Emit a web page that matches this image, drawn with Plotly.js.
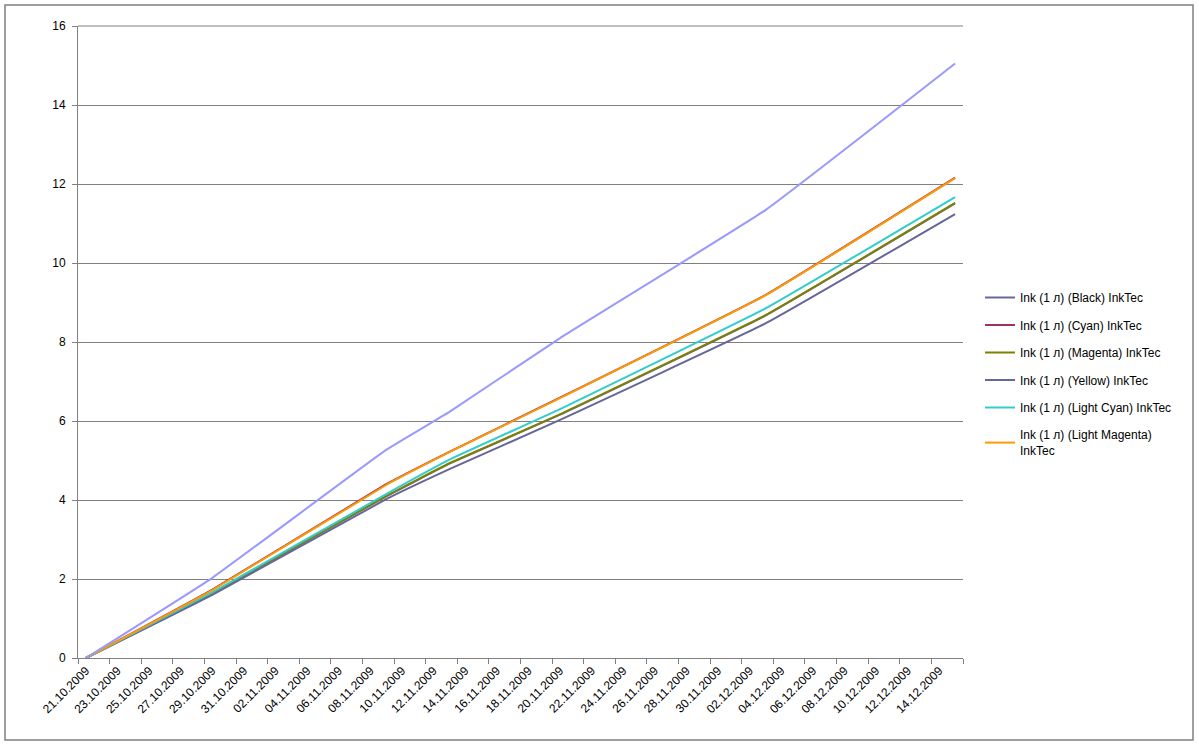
<!DOCTYPE html>
<html>
<head>
<meta charset="utf-8">
<script src="https://cdn.plot.ly/plotly-3.0.1.min.js"></script>
<style>
  html, body { margin: 0; padding: 0; background: #ffffff; }
  #chart { width: 1199px; height: 745px; }
</style>
</head>
<body>
<div id="chart"></div>
<script>
// ---- data ----
const dates = ['2009-10-21', '2009-10-29', '2009-11-09', '2009-11-13', '2009-11-20', '2009-12-03', '2009-12-15'];

const seriesNames = [
  'Ink (1 л) (Black) InkTec',
  'Ink (1 л) (Cyan) InkTec',
  'Ink (1 л) (Magenta) InkTec',
  'Ink (1 л) (Yellow) InkTec',
  'Ink (1 л) (Light Cyan) InkTec',
  'Ink (1 л) (Light Magenta)<br>InkTec',
  'Ink (1 л) (Light Black) InkTec'
];

const black        = [0, 1.63, 4.09, 4.92, 6.16, 8.67, 11.51];
const cyan         = [0, 1.73, 4.40, 5.22, 6.59, 9.19, 12.16];
const magenta      = [0, 1.64, 4.10, 4.93, 6.17, 8.68, 11.52];
const yellow       = [0, 1.60, 4.02, 4.78, 6.03, 8.47, 11.24];
const lightCyan    = [0, 1.66, 4.15, 5.02, 6.30, 8.85, 11.67];
const lightMagenta = [0, 1.72, 4.38, 5.21, 6.58, 9.18, 12.15];
const lightBlack   = [0, 2.03, 5.27, 6.23, 8.10, 11.34, 15.05];

const tickLabels = ['21.10.2009','23.10.2009','25.10.2009','27.10.2009','29.10.2009','31.10.2009',
  '02.11.2009','04.11.2009','06.11.2009','08.11.2009','10.11.2009','12.11.2009','14.11.2009',
  '16.11.2009','18.11.2009','20.11.2009','22.11.2009','24.11.2009','26.11.2009','28.11.2009',
  '30.11.2009','02.12.2009','04.12.2009','06.12.2009','08.12.2009','10.12.2009','12.12.2009','14.12.2009'];

// ---- styling ----
const colors = ['#666699', '#993366', '#808000', '#666699', '#33CCCC', '#FF9900', '#9999FF'];
const allSeries = [black, cyan, magenta, yellow, lightCyan, lightMagenta, lightBlack];

const traces = allSeries.map((vals, i) => ({
  type: 'scatter',
  mode: 'lines',
  x: dates,
  y: vals,
  name: seriesNames[i],
  legendgroup: 'g' + i,
  showlegend: i < 6,
  line: { color: colors[i], width: 2, shape: 'spline', smoothing: 0.3 },
  hoverinfo: 'x+y+name'
}));

const tickVals = tickLabels.map(s => {
  const p = s.split('.');
  return p[2] + '-' + p[1] + '-' + p[0];
});

const W = 1199, H = 745;
const L = 78, R = 963, T = 26, B = 658;
const pw = R - L, ph = B - T;
const px = v => (v - L) / pw;
const py = v => (B - v) / ph;

const layout = {
  width: W, height: H,
  margin: { l: L, r: W - R, t: T, b: H - B, pad: 0 },
  paper_bgcolor: '#ffffff',
  plot_bgcolor: '#ffffff',
  font: { family: 'Arial, "Liberation Sans", sans-serif', size: 12, color: '#000000' },
  showlegend: true,
  legend: {
    x: px(980), y: py(283), xanchor: 'left', yanchor: 'top',
    font: { size: 12, color: '#000000' },
    tracegroupgap: 8.5,
    bgcolor: 'rgba(0,0,0,0)',
    borderwidth: 0
  },
  xaxis: {
    type: 'date',
    range: ['2009-10-20 12:00', '2009-12-15 12:00'],
    tickmode: 'array',
    tickvals: tickVals,
    ticktext: tickLabels,
    tickangle: -45,
    ticks: '',
    showgrid: false,
    zeroline: false,
    showline: true,
    linecolor: '#808080',
    linewidth: 1,
    tickfont: { size: 12, color: '#000000' },
    minor: {
      tickmode: 'linear',
      tick0: '2009-10-20 12:00',
      dtick: 2 * 86400000,
      ticks: 'outside',
      ticklen: 5,
      tickcolor: '#808080',
      tickwidth: 1,
      showgrid: false
    },
    fixedrange: true
  },
  yaxis: {
    range: [0, 16],
    tickmode: 'linear',
    tick0: 0,
    dtick: 2,
    ticks: 'outside',
    ticklen: 5,
    tickcolor: '#808080',
    showgrid: true,
    gridcolor: '#808080',
    gridwidth: 1,
    zeroline: false,
    showline: true,
    linecolor: '#808080',
    linewidth: 1,
    tickfont: { size: 12, color: '#000000' },
    ticklabelstandoff: 4,
    fixedrange: true
  },
  shapes: [
    {
      type: 'rect', xref: 'paper', yref: 'paper',
      x0: px(5), x1: px(1193), y0: py(740), y1: py(5),
      line: { color: '#808080', width: 1.5 },
      fillcolor: 'rgba(0,0,0,0)',
      layer: 'below'
    },
    {
      type: 'line', xref: 'paper', yref: 'paper',
      x0: 0, x1: 1, y0: 1, y1: 1,
      line: { color: '#808080', width: 1 },
      layer: 'below'
    }
  ]
};

Plotly.newPlot('chart', traces, layout, { displayModeBar: false, staticPlot: true });
</script>
</body>
</html>
